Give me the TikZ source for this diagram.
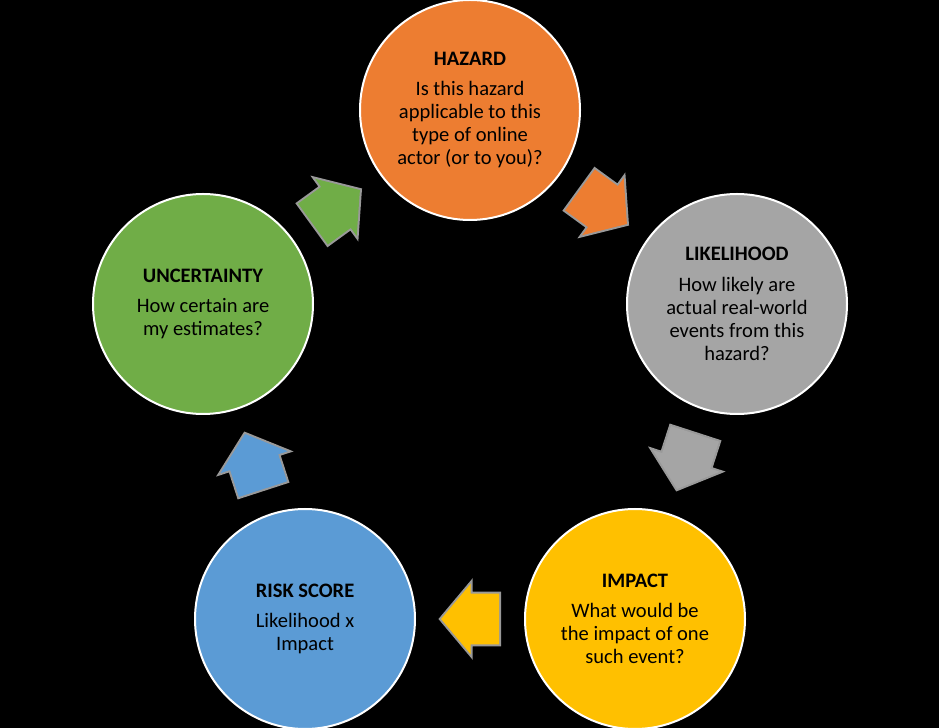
\documentclass[tikz,border=0pt]{standalone}
\usepackage{fontspec}
\setmainfont{Carlito}
\usetikzlibrary{calc,shapes.arrows,positioning}
\definecolor{myorange}{HTML}{ED7D31}
\definecolor{mygrey}{HTML}{A5A5A5}
\definecolor{myyellow}{HTML}{FFC000}
\definecolor{myblue}{HTML}{5B9BD5}
\definecolor{mygreen}{HTML}{70AD47}
\colorlet{myhalo}{black!40!white}
\newcommand{\headGap}{5.6pt}
\newcommand{\halfArrow}{22pt}
\tikzset{
  stepCircle/.style={circle,fill=#1,draw=white,line width=1.5pt,minimum size=165pt,inner sep=0pt,
      align=center,font=\fontsize{15.4}{17.3}\selectfont},
  cycleArrow/.style={single arrow,fill=#1,draw=none,inner xsep=0pt,inner ysep=18.75pt,minimum height=43.5pt,
      single arrow head extend=7.5pt,single arrow tip angle=100,anchor=tail,
      preaction={draw=myhalo,line width=3pt}},
}

\begin{document}
\begin{tikzpicture}[x=0.75pt,y=0.75pt]
  \useasboundingbox[fill=black] (0,0) rectangle (939,728);

  \node[stepCircle=myorange] at (470,618) (haz) {\textbf{HAZARD}\\[\headGap] Is this hazard\\ applicable to this\\ type of online\\ actor (or to you)?};
  \node[stepCircle=mygrey] at (737,424) (lik) {\textbf{LIKELIHOOD}\\[\headGap] How likely are\\ actual real-world\\ events from this\\ hazard?};
  \node[stepCircle=myyellow] at (635,109) (imp) {\textbf{IMPACT}\\[\headGap] What would be\\ the impact of one\\ such event?};
  \node[stepCircle=myblue] at (305,109) (risk) {\textbf{RISK SCORE}\\[\headGap] Likelihood x\\ Impact};
  \node[stepCircle=mygreen] at (203,424) (unc) {\textbf{UNCERTAINTY}\\[\headGap] How certain are\\ my estimates?};

  % arrows half way between the circles, turned along the cycle
  \node[cycleArrow=myorange,rotate=-36] at ($(haz)!0.5!(lik)!\halfArrow!(haz)$) (hazLik) {};
  \node[cycleArrow=mygrey,rotate=-108] at ($(lik)!0.5!(imp)!\halfArrow!(lik)$) (likImp) {};
  \node[cycleArrow=myyellow,rotate=180] at ($(imp)!0.5!(risk)!\halfArrow!(imp)$) (impRisk) {};
  \node[cycleArrow=myblue,rotate=108] at ($(risk)!0.5!(unc)!\halfArrow!(risk)$) (riskUnc) {};
  \node[cycleArrow=mygreen,rotate=36] at ($(unc)!0.5!(haz)!\halfArrow!(unc)$) (uncHaz) {};
\end{tikzpicture}
\end{document}
